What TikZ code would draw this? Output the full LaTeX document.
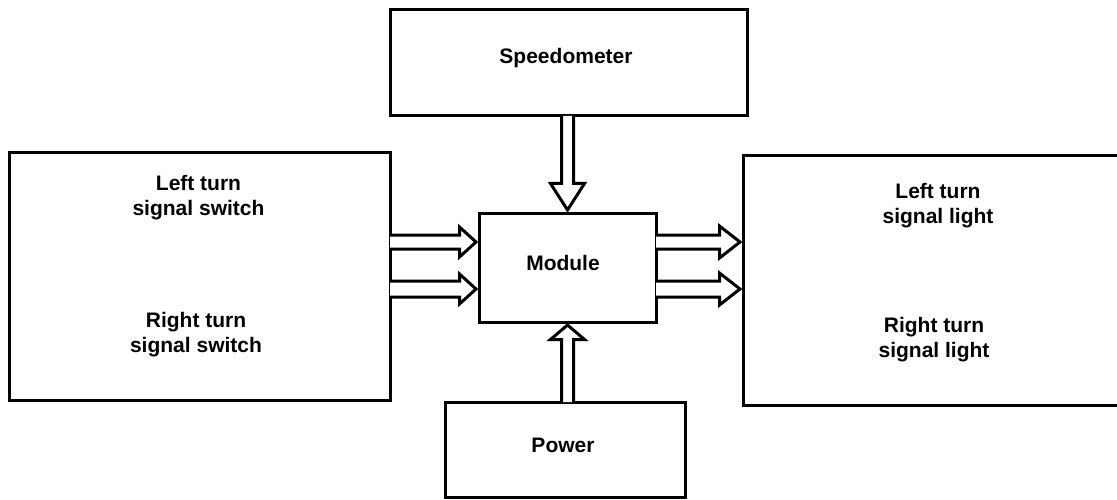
\documentclass[tikz,border=0pt]{standalone}
\usepackage{fontspec}
\setmainfont{Liberation Sans}
\usetikzlibrary{calc}

\begin{document}
\begin{tikzpicture}[x=1pt,y=-1pt,
  box/.style={draw,line width=3pt,inner sep=0pt},
  txt/.style={font=\fontsize{21}{25}\selectfont\bfseries,align=center,anchor=base},
  barrow/.style={draw,fill=white,line width=3pt,line join=miter}]
\useasboundingbox (0,0) rectangle (1117,500);
% blocks
\node[box,minimum width=357pt,minimum height=106pt] (speedo) at (568.5,63) {};
\node[box,minimum width=381pt,minimum height=247pt] (switches) at (199.5,276.5) {};
\node[box,minimum width=387pt,minimum height=249pt] (lights) at (936.5,280.5) {};
\node[box,minimum width=177pt,minimum height=109pt] (module) at (567.5,267.5) {};
\node[box,minimum width=240pt,minimum height=95pt] (power) at (565,449.5) {};
% labels (base = last line)
\node[txt] (speedotxt) at (566,64) {Speedometer};
\node[txt] (lswtxt) at (198.5,215) {Left turn\\signal switch};
\node[txt] (rswtxt) at (196,352) {Right turn\\signal switch};
\node[txt] (lltxt) at (938,223) {Left turn\\signal light};
\node[txt] (rltxt) at (934,357) {Right turn\\signal light};
\node[txt] (modtxt) at (563,270) {Module};
\node[txt] (powtxt) at (563,452) {Power};
% switches -> module
\filldraw[barrow] ($(switches.east|-0,235)+(-1.5,0)$) -- ($(module.west|-0,235)+(-18,0)$) -- ($(module.west|-0,227)+(-18,0)$)
  -- ($(module.west|-0,242)+(-1.5,0)$) -- ($(module.west|-0,257)+(-18,0)$) -- ($(module.west|-0,249)+(-18,0)$) -- ($(switches.east|-0,249)+(-1.5,0)$);
\filldraw[barrow] ($(switches.east|-0,281)+(-1.5,0)$) -- ($(module.west|-0,281)+(-18,0)$) -- ($(module.west|-0,274)+(-18,0)$)
  -- ($(module.west|-0,289)+(-1.5,0)$) -- ($(module.west|-0,304)+(-18,0)$) -- ($(module.west|-0,297)+(-18,0)$) -- ($(switches.east|-0,297)+(-1.5,0)$);
% module -> lights
\filldraw[barrow] ($(module.east|-0,235)+(-1.5,0)$) -- ($(lights.west|-0,235)+(-22,0)$) -- ($(lights.west|-0,226)+(-22,0)$)
  -- ($(lights.west|-0,242)+(-1.5,0)$) -- ($(lights.west|-0,258)+(-22,0)$) -- ($(lights.west|-0,249)+(-22,0)$) -- ($(module.east|-0,249)+(-1.5,0)$);
\filldraw[barrow] ($(module.east|-0,281)+(-1.5,0)$) -- ($(lights.west|-0,281)+(-22,0)$) -- ($(lights.west|-0,273)+(-22,0)$)
  -- ($(lights.west|-0,289)+(-1.5,0)$) -- ($(lights.west|-0,305)+(-22,0)$) -- ($(lights.west|-0,297)+(-22,0)$) -- ($(module.east|-0,297)+(-1.5,0)$);
% speedometer -> module
\filldraw[barrow] ($(speedo.south-|module.north)+(-6,-1.5)$) -- ($(module.north)+(-6,-28)$) -- ($(module.north)+(-17,-28)$)
  -- ($(module.north)+(0,-1.5)$) -- ($(module.north)+(17,-28)$) -- ($(module.north)+(6,-28)$) -- ($(speedo.south-|module.north)+(6,-1.5)$);
% power -> module
\filldraw[barrow] ($(power.north-|module.south)+(-6,1.5)$) -- ($(module.south)+(-6,16)$) -- ($(module.south)+(-17,16)$)
  -- ($(module.south)+(0,1.5)$) -- ($(module.south)+(17,16)$) -- ($(module.south)+(6,16)$) -- ($(power.north-|module.south)+(6,1.5)$);
\end{tikzpicture}
\end{document}
